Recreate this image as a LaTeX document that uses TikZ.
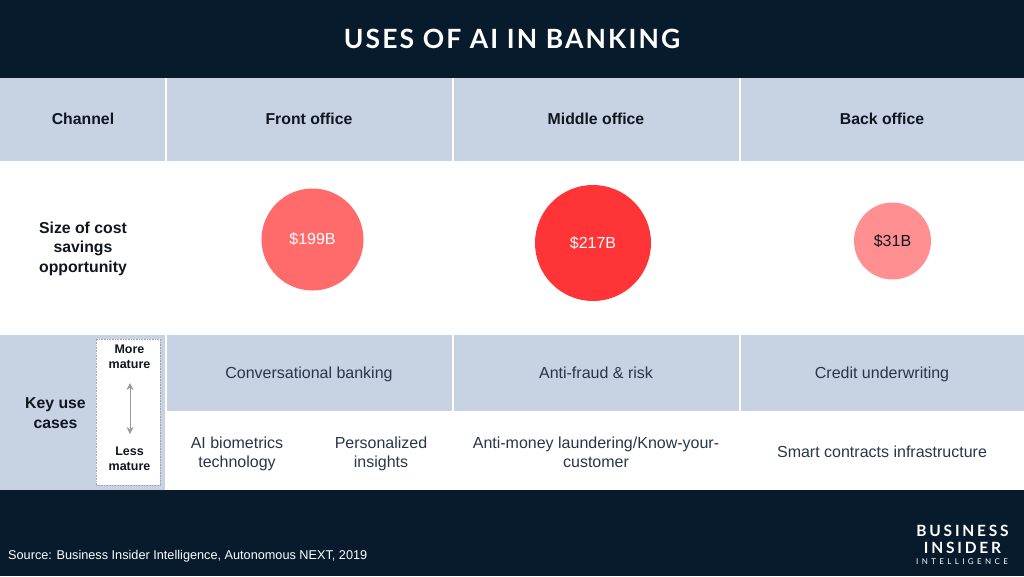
\documentclass[tikz,border=0pt]{standalone}
\usepackage{fontspec}
\setmainfont{Liberation Sans}
\newfontfamily\logofont{Lato}
\usetikzlibrary{arrows.meta}
\definecolor{navy}{HTML}{071B2D}
\definecolor{cellblue}{HTML}{C7D3E2}
\definecolor{inktext}{HTML}{10161F}
\definecolor{softtext}{HTML}{27364A}
\definecolor{bubblea}{HTML}{FF6B6B}
\definecolor{bubbleb}{HTML}{FF3436}
\definecolor{bubblec}{HTML}{FF8F90}
\tikzset{
  band/.style={fill=navy,minimum width=1024pt,inner sep=0pt,outer sep=0pt},
  cell/.style={fill=cellblue,inner sep=0pt,outer sep=0pt},
  head/.style={font=\bfseries\fontsize{15.8}{19.5}\selectfont,text=inktext,align=center},
  usecase/.style={font=\fontsize{16}{19}\selectfont,text=softtext,align=center},
  bubble/.style={circle,inner sep=0pt,outer sep=0pt,font=\fontsize{16}{18}\selectfont},
  small/.style={font=\bfseries\fontsize{12.5}{15}\selectfont,text=inktext,align=center},
}
\begin{document}
\begin{tikzpicture}[x=1pt,y=-1pt]
      \useasboundingbox (0,0) rectangle (1024,576);

      \node[band,minimum height=78pt] (topband) at (512,39) {};
      \node[band,minimum height=86pt] (footband) at (512,533) {};
      \node[font=\logofont\bfseries\fontsize{26.5}{30}\selectfont,text=white] (title) at (512,39)
        {\addfontfeature{LetterSpace=8}USES OF AI IN BANKING};

      % header row
      \node[cell,minimum width=165pt,minimum height=83pt] (chancell) at (82.5,119.5) {};
      \node[cell,minimum width=285pt,minimum height=83pt] (frontcell) at (309.5,119.5) {};
      \node[cell,minimum width=285pt,minimum height=83pt] (midcell) at (596.5,119.5) {};
      \node[cell,minimum width=283pt,minimum height=83pt] (backcell) at (882.5,119.5) {};
      \node[head] (chan) at (83,119) {Channel};
      \node[head] (front) at (309,119) {Front office};
      \node[head] (mid) at (596,119) {Middle office};
      \node[head] (back) at (882,119) {Back office};

      % savings row
      \node[head] (size) at (83,248.5) {Size of cost\\savings\\opportunity};
      \node[bubble,fill=bubblea,minimum size=102pt,text=white] (b199) at (312.5,239.5) {\$199B};
      \node[bubble,fill=bubbleb,minimum size=116pt,text=white] (b217) at (593,243) {\$217B};
      \node[bubble,fill=bubblec,minimum size=77pt,text=inktext] (b31) at (892.5,241) {\$31B};

      % use cases
      \node[cell,minimum width=165pt,minimum height=155pt] (keycell) at (82.5,412.5) {};
      \node[cell,minimum width=285pt,minimum height=76pt] (convcell) at (309.5,373) {};
      \node[cell,minimum width=285pt,minimum height=76pt] (fraudcell) at (596.5,373) {};
      \node[cell,minimum width=283pt,minimum height=76pt] (creditcell) at (882.5,373) {};
      \node[head] (key) at (55.5,413) {Key use\\cases};
      \node[usecase,anchor=base] (conv) at (309,378.5) {Conversational banking};
      \node[usecase,anchor=base] (fraud) at (596,378.5) {Anti-fraud \& risk};
      \node[usecase,anchor=base] (credit) at (882,378.5) {Credit underwriting};
      \node[usecase] (bio) at (237,453.5) {AI biometrics\\technology};
      \node[usecase] (pers) at (381,453.5) {Personalized\\insights};
      \node[usecase] (aml) at (596,452.5) {Anti-money laundering/Know-your-\\customer};
      \node[usecase] (smart) at (882,452) {Smart contracts infrastructure};

      % maturity box
      \node[fill=white,draw=gray!70,densely dotted,line width=0.6pt,minimum width=64pt,minimum height=146pt,inner sep=0pt] (matbox) at (128,412) {};
      \node[small] (more) at (129.5,357) {More\\mature};
      \node[small] (less) at (129.5,459) {Less\\mature};
      \coordinate (mattop) at (130,383);
      \coordinate (matlow) at (130,434);
      \draw[{Stealth[length=7pt,width=7pt]}-{Stealth[length=7pt,width=7pt]},gray!80,line width=1pt] (mattop) -- (matlow);

      % footer
      \node[font=\fontsize{12.7}{15}\selectfont,text=white,anchor=west,inner sep=0pt] (source) at (8,556.5) {Source: Business Insider Intelligence, Autonomous NEXT, 2019};
      \node[font=\logofont\bfseries\fontsize{15.5}{15}\selectfont,text=white] (logoa) at (962.5,531) {\addfontfeature{LetterSpace=18}BUSINESS};
      \node[font=\logofont\bfseries\fontsize{15.5}{15}\selectfont,text=white] (logob) at (962.5,548) {\addfontfeature{LetterSpace=18}INSIDER};
      \node[font=\logofont\fontsize{8}{8}\selectfont,text=white] (logoc) at (962,562) {\addfontfeature{LetterSpace=42}INTELLIGENCE};
    \end{tikzpicture}
\end{document}
